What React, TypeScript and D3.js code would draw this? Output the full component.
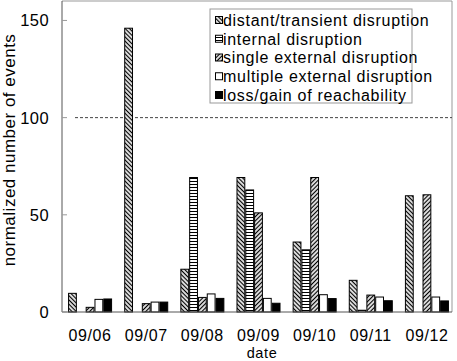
import React from "react";
import * as d3 from "d3";

const dates = ["09/06", "09/07", "09/08", "09/09", "09/10", "09/11", "09/12"];
const seriesNames = [
  "distant/transient disruption",
  "internal disruption",
  "single external disruption",
  "multiple external disruption",
  "loss/gain of reachability",
];
const distant = [9.6, 146, 22, 69.2, 36, 16.3, 59.8];
const internal = [0, 0, 69.2, 62.8, 32, 0.9, 0];
const singleExt = [2.4, 4.3, 7.5, 51, 69.2, 8.7, 60.3];
const multipleExt = [6.5, 5.1, 9.3, 7, 8.9, 7.7, 7.7];
const lossGain = [6.7, 5.1, 7, 4.5, 6.9, 5.8, 5.7];
const yTicks = [0, 50, 100, 150];
const referenceLine = 100;

const seriesValues = [distant, internal, singleExt, multipleExt, lossGain];
const fills = ["url(#pDiagDown)", "url(#pHoriz)", "url(#pDiagUp)", "#ffffff", "#000000"];

const W = 457;
const H = 361;
const left = 62;
const right = 452;
const top = 1;
const bottom = 312;
const font = "'Liberation Sans', Arial, Helvetica, sans-serif";

export default function App() {
  const x = d3
    .scaleBand<string>()
    .domain(dates)
    .range([left, 455])
    .paddingInner(0.216)
    .paddingOuter(0.108);
  const xs = d3
    .scaleBand<number>()
    .domain(d3.range(seriesNames.length))
    .range([0, x.bandwidth()]);
  const y = d3.scaleLinear().domain([0, 160]).range([bottom, top]);

  return (
    <svg
      width={W}
      height={H}
      style={{ position: "absolute", left: 0, top: 0, background: "#fff" }}
      fontFamily={font}
    >
      <defs>
        <pattern id="pDiagDown" width={3} height={3} patternUnits="userSpaceOnUse" patternTransform="rotate(45)">
          <rect width={3} height={3} fill="#fff" />
          <line x1={0} y1={1.5} x2={3} y2={1.5} stroke="#000" strokeWidth={1.3} />
        </pattern>
        <pattern id="pDiagUp" width={3} height={3} patternUnits="userSpaceOnUse" patternTransform="rotate(-45)">
          <rect width={3} height={3} fill="#fff" />
          <line x1={0} y1={1.5} x2={3} y2={1.5} stroke="#000" strokeWidth={1.3} />
        </pattern>
        <pattern id="pHoriz" width={3} height={3} patternUnits="userSpaceOnUse">
          <rect width={3} height={3} fill="#fff" />
          <line x1={0} y1={1.5} x2={3} y2={1.5} stroke="#000" strokeWidth={1} />
        </pattern>
      </defs>

      {/* frame */}
      <line x1={left} y1={top} x2={right} y2={top} stroke="#999" />
      <line x1={right} y1={top} x2={right} y2={bottom} stroke="#999" />

      {/* reference line */}
      <line
        x1={75}
        x2={right}
        y1={y(referenceLine)}
        y2={y(referenceLine)}
        stroke="#444"
        strokeDasharray="3,2"
      />

      {/* bars */}
      {dates.map((d, i) => (
        <g key={d} transform={`translate(${x(d)},0)`}>
          {seriesValues.map((vals, s) =>
            vals[i] > 0 ? (
              <rect
                key={s}
                x={(xs(s) as number) + 0.5}
                y={y(vals[i])}
                width={xs.bandwidth() - 1}
                height={bottom - y(vals[i])}
                fill={fills[s]}
                stroke="#000"
                strokeWidth={1}
              />
            ) : null
          )}
        </g>
      ))}

      {/* axes */}
      <line x1={left} y1={top} x2={left} y2={bottom} stroke="#555" />
      <line x1={left} y1={bottom} x2={right} y2={bottom} stroke="#555" />
      {yTicks.map((t) => (
        <g key={t}>
          <line x1={left} x2={left + 5} y1={y(t)} y2={y(t)} stroke="#999" />
          <text x={49} y={y(t)} dy="0.36em" textAnchor="end" fontSize={16.5} letterSpacing={0.4} fill="#000">
            {t}
          </text>
        </g>
      ))}
      {dates.map((d) => (
        <text
          key={d}
          x={(x(d) as number) + x.bandwidth() / 2}
          y={340.5}
          textAnchor="middle"
          fontSize={16}
          letterSpacing={0.6}
          fill="#000"
        >
          {d}
        </text>
      ))}
      <text x={(left + right) / 2 + 5} y={357.5} textAnchor="middle" fontSize={14.5} letterSpacing={0.6} fill="#000">
        date
      </text>
      <text
        transform="translate(15,150) rotate(-90)"
        textAnchor="middle"
        fontSize={17}
        letterSpacing={0.5}
        fill="#000"
      >
        normalized number of events
      </text>

      {/* legend */}
      <rect x={210} y={9} width={202} height={94} fill="#fff" stroke="#999" />
      {seriesNames.map((n, i) => {
        const cy = 20 + i * 18.75;
        return (
          <g key={n}>
            <rect x={215.5} y={cy - 3.5} width={7} height={7} fill={fills[i]} stroke="#000" strokeWidth={1} />
            <text x={223} y={cy} dy="0.36em" fontSize={16} letterSpacing={0.7} fill="#000">
              {n}
            </text>
          </g>
        );
      })}
    </svg>
  );
}
